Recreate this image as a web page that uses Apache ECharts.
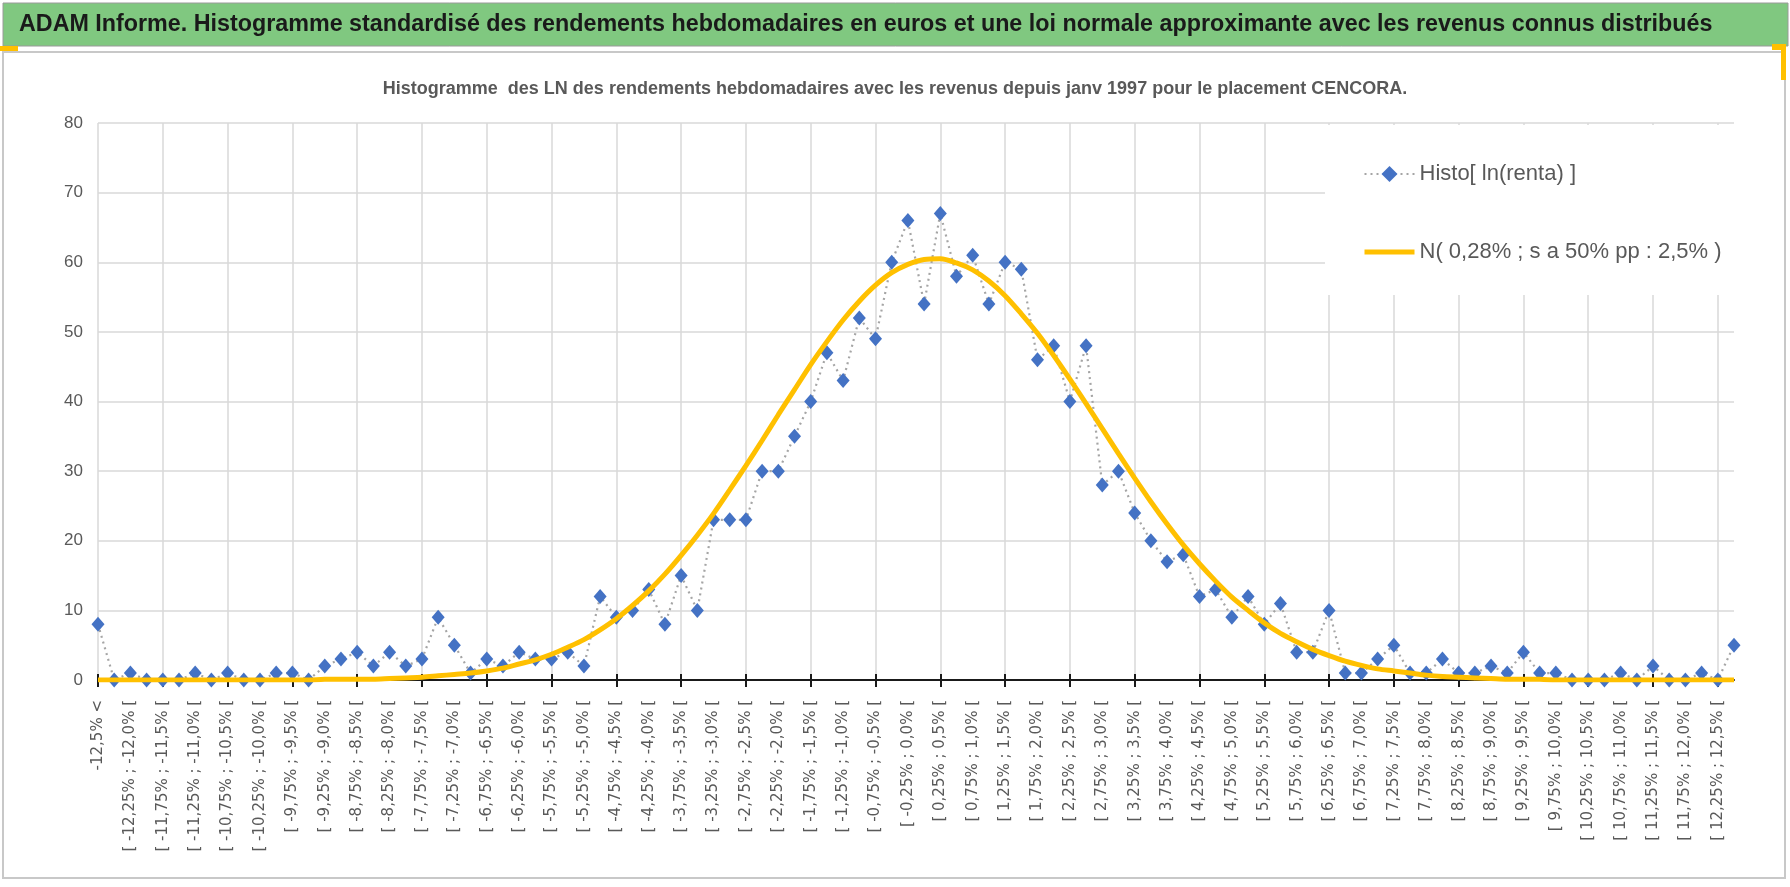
<!DOCTYPE html>
<html>
<head>
<meta charset="utf-8">
<script src="https://cdn.jsdelivr.net/npm/echarts@6/dist/echarts.min.js"></script>
<style>
html,body{margin:0;padding:0;background:#fff;}
#c{width:1790px;height:887px;}
</style>
</head>
<body>
<div id="c"></div>
<script>
const categories = [
"-12,5% <",
"[ -12,5% ; -12,25% [","[ -12,25% ; -12,0% [","[ -12,0% ; -11,75% [","[ -11,75% ; -11,5% [",
"[ -11,5% ; -11,25% [","[ -11,25% ; -11,0% [","[ -11,0% ; -10,75% [","[ -10,75% ; -10,5% [",
"[ -10,5% ; -10,25% [","[ -10,25% ; -10,0% [","[ -10,0% ; -9,75% [","[ -9,75% ; -9,5% [",
"[ -9,5% ; -9,25% [","[ -9,25% ; -9,0% [","[ -9,0% ; -8,75% [","[ -8,75% ; -8,5% [",
"[ -8,5% ; -8,25% [","[ -8,25% ; -8,0% [","[ -8,0% ; -7,75% [","[ -7,75% ; -7,5% [",
"[ -7,5% ; -7,25% [","[ -7,25% ; -7,0% [","[ -7,0% ; -6,75% [","[ -6,75% ; -6,5% [",
"[ -6,5% ; -6,25% [","[ -6,25% ; -6,0% [","[ -6,0% ; -5,75% [","[ -5,75% ; -5,5% [",
"[ -5,5% ; -5,25% [","[ -5,25% ; -5,0% [","[ -5,0% ; -4,75% [","[ -4,75% ; -4,5% [",
"[ -4,5% ; -4,25% [","[ -4,25% ; -4,0% [","[ -4,0% ; -3,75% [","[ -3,75% ; -3,5% [",
"[ -3,5% ; -3,25% [","[ -3,25% ; -3,0% [","[ -3,0% ; -2,75% [","[ -2,75% ; -2,5% [",
"[ -2,5% ; -2,25% [","[ -2,25% ; -2,0% [","[ -2,0% ; -1,75% [","[ -1,75% ; -1,5% [",
"[ -1,5% ; -1,25% [","[ -1,25% ; -1,0% [","[ -1,0% ; -0,75% [","[ -0,75% ; -0,5% [",
"[ -0,5% ; -0,25% [","[ -0,25% ; 0,0% [","[ 0,0% ; 0,25% [","[ 0,25% ; 0,5% [",
"[ 0,5% ; 0,75% [","[ 0,75% ; 1,0% [","[ 1,0% ; 1,25% [","[ 1,25% ; 1,5% [",
"[ 1,5% ; 1,75% [","[ 1,75% ; 2,0% [","[ 2,0% ; 2,25% [","[ 2,25% ; 2,5% [",
"[ 2,5% ; 2,75% [","[ 2,75% ; 3,0% [","[ 3,0% ; 3,25% [","[ 3,25% ; 3,5% [",
"[ 3,5% ; 3,75% [","[ 3,75% ; 4,0% [","[ 4,0% ; 4,25% [","[ 4,25% ; 4,5% [",
"[ 4,5% ; 4,75% [","[ 4,75% ; 5,0% [","[ 5,0% ; 5,25% [","[ 5,25% ; 5,5% [",
"[ 5,5% ; 5,75% [","[ 5,75% ; 6,0% [","[ 6,0% ; 6,25% [","[ 6,25% ; 6,5% [",
"[ 6,5% ; 6,75% [","[ 6,75% ; 7,0% [","[ 7,0% ; 7,25% [","[ 7,25% ; 7,5% [",
"[ 7,5% ; 7,75% [","[ 7,75% ; 8,0% [","[ 8,0% ; 8,25% [","[ 8,25% ; 8,5% [",
"[ 8,5% ; 8,75% [","[ 8,75% ; 9,0% [","[ 9,0% ; 9,25% [","[ 9,25% ; 9,5% [",
"[ 9,5% ; 9,75% [","[ 9,75% ; 10,0% [","[ 10,0% ; 10,25% [","[ 10,25% ; 10,5% [",
"[ 10,5% ; 10,75% [","[ 10,75% ; 11,0% [","[ 11,0% ; 11,25% [","[ 11,25% ; 11,5% [",
"[ 11,5% ; 11,75% [","[ 11,75% ; 12,0% [","[ 12,0% ; 12,25% [","[ 12,25% ; 12,5% [",
"> 12,5%"
];

const histo = [
8,0,1,0,0,0,1,0,1,0,
0,1,1,0,2,3,4,2,4,2,
3,9,5,1,3,2,4,3,3,4,
2,12,9,10,13,8,15,10,23,23,
23,30,30,35,40,47,43,52,49,60,
66,54,67,58,61,54,60,59,46,48,
40,48,28,30,24,20,17,18,12,13,
9,12,8,11,4,4,10,1,1,3,
5,1,1,3,1,1,2,1,4,1,
1,0,0,0,1,0,2,0,0,1,
0,5
];

const normale = [
0,0,0,0,0,0,0,0,0,0,
0,0,0,0.0,0.1,0.1,0.1,0.1,0.2,0.3,
0.4,0.6,0.8,1.0,1.3,1.7,2.3,2.9,3.7,4.7,
5.8,7.2,8.8,10.7,12.8,15.2,17.9,20.8,23.9,27.3,
30.8,34.4,38.1,41.7,45.3,48.6,51.7,54.4,56.7,58.5,
59.7,60.4,60.5,59.9,58.9,57.3,55.2,52.6,49.8,46.6,
43.2,39.7,36.1,32.5,29.0,25.6,22.4,19.4,16.7,14.2,
11.9,10.0,8.2,6.7,5.5,4.4,3.5,2.7,2.1,1.6,
1.3,1.0,0.7,0.5,0.4,0.3,0.2,0.1,0.1,0.1,
0,0,0,0,0,0,0,0,0,0,
0,0
];

const yTicks = {min: 0, max: 80, interval: 10};
const seriesNames = ["Histo[ ln(renta) ]", "N( 0,28% ; s a 50% pp : 2,5% )"];
const mainTitle = "ADAM Informe. Histogramme standardisé des rendements hebdomadaires en euros et une loi normale approximante avec les revenus connus distribués";
const subTitle = "Histogramme  des LN des rendements hebdomadaires avec les revenus depuis janv 1997 pour le placement CENCORA.";

const chart = echarts.init(document.getElementById('c'), null, {renderer: 'canvas'});
const sans = "'Liberation Sans', Arial, sans-serif";

chart.setOption({
  backgroundColor: '#ffffff',
  animation: false,
  graphic: [
    {type: 'rect', z: -10, shape: {x: 0, y: 0, width: 1790, height: 887}, style: {fill: '#ffffff'}},
    {type: 'rect', z: -5, shape: {x: 3, y: 3, width: 1785, height: 43}, style: {fill: '#80c880', stroke: '#9a9a9a', lineWidth: 1}},
    {type: 'rect', z: -5, shape: {x: 3, y: 52, width: 1782, height: 826}, style: {fill: 'none', stroke: '#c8c8c8', lineWidth: 2}},
    {type: 'rect', z: -4, shape: {x: 0, y: 46, width: 18, height: 5}, style: {fill: '#ffc000'}},
    {type: 'rect', z: -4, shape: {x: 1772, y: 44, width: 14, height: 6}, style: {fill: '#ffc000'}},
    {type: 'rect', z: -4, shape: {x: 1781, y: 44, width: 5, height: 36}, style: {fill: '#ffc000'}}
  ],
  title: [
    {text: mainTitle, left: 19, top: 13, padding: 0,
     textStyle: {fontFamily: sans, fontWeight: 'bold', fontSize: 23.3, color: '#1a1a1a'}},
    {text: subTitle, left: 'center', top: 80, padding: 0,
     textStyle: {fontFamily: sans, fontWeight: 'bold', fontSize: 18, color: '#595959'}}
  ],
  legend: {
    orient: 'vertical',
    left: 1325, top: 125,
    backgroundColor: '#ffffff',
    padding: [38, 40, 32, 37],
    itemGap: 56,
    itemWidth: 50,
    itemHeight: 20,
    itemTextGap: 6,
    textStyle: {fontFamily: sans, fontSize: 22, color: '#595959'},
    data: [
      {name: seriesNames[0]},
      {name: seriesNames[1], itemStyle: {opacity: 0}, lineStyle: {width: 5, color: '#ffc000'}}
    ]
  },
  grid: {left: 98, right: 56, top: 123, bottom: 207, containLabel: false},
  xAxis: [
    {
      type: 'category', data: categories, boundaryGap: false,
      axisLine: {show: true, lineStyle: {color: '#1a1a1a', width: 2}},
      axisTick: {show: true, interval: 3, length: 7, lineStyle: {color: '#1a1a1a', width: 2}},
      axisLabel: {interval: 1, rotate: 90, margin: 20, fontFamily: "'DejaVu Sans', sans-serif", fontSize: 15, color: '#595959'},
      splitLine: {show: true, interval: 3, lineStyle: {color: '#d9d9d9', width: 1.5}}
    },
    {
      type: 'category', data: categories, boundaryGap: false, position: 'bottom',
      axisLine: {show: false},
      axisTick: {show: true, inside: true, interval: 3, length: 6, lineStyle: {color: '#1a1a1a', width: 2}},
      axisLabel: {show: false},
      splitLine: {show: false}
    }
  ],
  yAxis: {
    type: 'value', min: yTicks.min, max: yTicks.max, interval: yTicks.interval,
    axisLine: {show: false}, axisTick: {show: false},
    axisLabel: {margin: 15, fontFamily: sans, fontSize: 17, color: '#595959'},
    splitLine: {lineStyle: {color: '#d9d9d9', width: 1.5}}
  },
  series: [
    {
      name: seriesNames[0], type: 'line', data: histo, xAxisIndex: 0,
      symbol: 'diamond', symbolSize: [13, 15], showAllSymbol: true,
      itemStyle: {color: '#4472c4'},
      lineStyle: {color: '#a5a5a5', width: 2.2, type: [2, 4]},
      z: 3
    },
    {
      name: seriesNames[1], type: 'line', data: normale, xAxisIndex: 0,
      symbol: 'none', smooth: 0.3,
      itemStyle: {color: '#ffc000'},
      lineStyle: {color: '#ffc000', width: 5},
      z: 4
    }
  ]
});
</script>
</body>
</html>
